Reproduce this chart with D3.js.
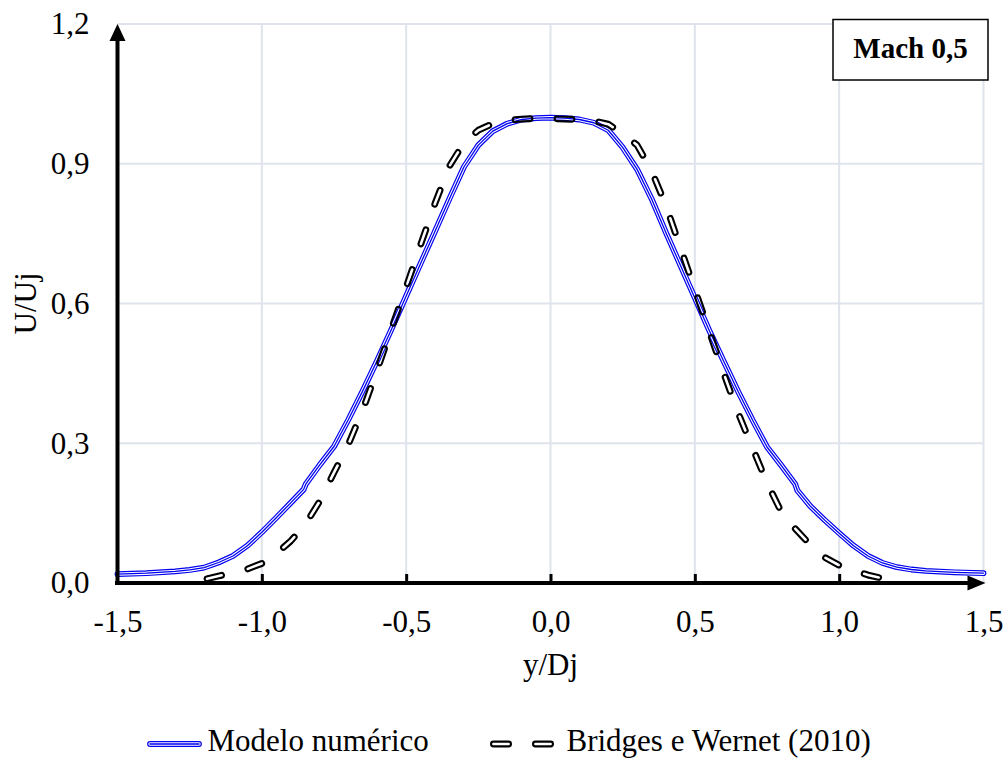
<!DOCTYPE html>
<html>
<head>
<meta charset="utf-8">
<script src="https://cdn.jsdelivr.net/npm/d3@7"></script>
<style>
  body { margin: 0; background: #fff; }
  svg { display: block; }
  text { font-family: "Liberation Serif", "Times New Roman", serif; fill: #000; }
</style>
</head>
<body>
<svg id="chart" width="1008" height="760"></svg>
<script>
// Axis ticks
const xTickValues = [-1.5, -1.0, -0.5, 0.0, 0.5, 1.0, 1.5];
const yTickValues = [0.0, 0.3, 0.6, 0.9, 1.2];

// Numerical model velocity profile (U/Uj against y/Dj)
const modelX = [-1.5, -1.4, -1.3, -1.25, -1.2, -1.15, -1.1, -1.05, -1.0, -0.95, -0.9, -0.855, -0.848,
  -0.8, -0.75, -0.7, -0.65, -0.6, -0.55, -0.5, -0.45, -0.4, -0.35, -0.3, -0.25, -0.2, -0.15, -0.1, -0.05,
  0.0, 0.05, 0.1, 0.15, 0.2, 0.25, 0.3, 0.35, 0.4, 0.45, 0.5, 0.55, 0.6, 0.65, 0.7, 0.75, 0.8, 0.848,
  0.855, 0.9, 0.95, 1.0, 1.05, 1.1, 1.15, 1.2, 1.25, 1.3, 1.4, 1.5];
const modelY = [0.019, 0.021, 0.025, 0.028, 0.033, 0.044, 0.058, 0.080, 0.109, 0.140, 0.172, 0.201, 0.212,
  0.253, 0.293, 0.351, 0.413, 0.478, 0.546, 0.616, 0.686, 0.755, 0.825, 0.893, 0.940, 0.970, 0.986, 0.995, 0.998,
  0.999, 0.998, 0.995, 0.988, 0.972, 0.935, 0.888, 0.825, 0.752, 0.682, 0.612, 0.542, 0.476, 0.411, 0.350, 0.292, 0.252, 0.212,
  0.199, 0.165, 0.135, 0.107, 0.080, 0.058, 0.043, 0.034, 0.029, 0.026, 0.023, 0.021];

// Bridges & Wernet (2010) measured profile
const refX = [-1.19, -1.15, -1.1, -1.05, -1.0, -0.95, -0.9, -0.85, -0.8, -0.75, -0.7, -0.65, -0.6, -0.55,
  -0.5, -0.45, -0.4, -0.35, -0.3, -0.25, -0.2, -0.15, -0.1, -0.05, 0.0, 0.05, 0.1, 0.15, 0.2, 0.25, 0.3,
  0.35, 0.4, 0.45, 0.5, 0.55, 0.6, 0.65, 0.7, 0.75, 0.8, 0.85, 0.9, 0.95, 1.0, 1.05, 1.1, 1.15, 1.17];
const refY = [0.009, 0.015, 0.022, 0.030, 0.042, 0.063, 0.090, 0.125, 0.175, 0.237, 0.298, 0.372, 0.458, 0.548,
  0.635, 0.726, 0.815, 0.895, 0.945, 0.972, 0.986, 0.993, 0.996, 0.997, 0.997, 0.996, 0.995, 0.992, 0.985, 0.965, 0.940,
  0.885, 0.810, 0.720, 0.630, 0.540, 0.450, 0.365, 0.290, 0.215, 0.152, 0.115, 0.082, 0.055, 0.038, 0.027, 0.017, 0.010, 0.008];

const seriesNames = ["Modelo numérico", "Bridges e Wernet (2010)"];
const caseLabel = "Mach 0,5";
const xTitle = "y/Dj";
const yTitle = "U/Uj";

const svg = d3.select("#chart");
const FONT = 31;
const gridColor = "#dfe3eb";
const blue = "#0000f0";

const x = d3.scaleLinear().domain([-1.5, 1.5]).range([117.5, 983.5]);
const y = d3.scaleLinear().domain([0, 1.2]).range([583, 24]);
const fmt = v => v.toFixed(1).replace(".", ",");

svg.append("rect").attr("width", 1008).attr("height", 760).attr("fill", "#fff");
const defs = svg.append("defs");

// Grid
const grid = svg.append("g");
grid.selectAll("line.gx").data(xTickValues.filter(v => v > -1.5))
  .join("line").attr("class", "gx")
  .attr("x1", d => x(d)).attr("x2", d => x(d))
  .attr("y1", y(0)).attr("y2", y(1.2))
  .attr("stroke", gridColor).attr("stroke-width", 2);
grid.selectAll("line.gy").data(yTickValues.filter(v => v > 0))
  .join("line").attr("class", "gy")
  .attr("x1", x(-1.5)).attr("x2", x(1.5))
  .attr("y1", d => y(d)).attr("y2", d => y(d))
  .attr("stroke", gridColor).attr("stroke-width", 2);

// Model curve: blue triple-stripe line
const line = d3.line().x(d => x(d[0])).y(d => y(d[1]));
const modelPts = modelX.map((v, i) => [v, modelY[i]]);
const modelPath = line(modelPts);
function tripleLine(g, d) {
  g.append("path").attr("d", d).attr("fill", "none").attr("stroke", blue)
    .attr("stroke-width", 5.8).attr("stroke-linejoin", "round").attr("stroke-linecap", "round");
  g.append("path").attr("d", d).attr("fill", "none").attr("stroke", "#fff")
    .attr("stroke-width", 3.4).attr("stroke-linejoin", "round").attr("stroke-linecap", "round");
  g.append("path").attr("d", d).attr("fill", "none").attr("stroke", blue)
    .attr("stroke-width", 1.3).attr("stroke-linejoin", "round").attr("stroke-linecap", "round");
}
tripleLine(svg.append("g"), modelPath);

// Reference curve: hollow dashes (outline only)
function hollowDash(id, d, dash) {
  const m = defs.append("mask").attr("id", id)
    .attr("maskUnits", "userSpaceOnUse")
    .attr("x", 0).attr("y", 0).attr("width", 1008).attr("height", 760);
  m.append("path").attr("d", d).attr("fill", "none").attr("stroke", "#fff")
    .attr("stroke-width", 6.8).attr("stroke-linecap", "round").attr("stroke-linejoin", "round")
    .attr("stroke-dasharray", dash);
  m.append("path").attr("d", d).attr("fill", "none").attr("stroke", "#000")
    .attr("stroke-width", 2.6).attr("stroke-linecap", "round").attr("stroke-linejoin", "round")
    .attr("stroke-dasharray", dash);
  svg.append("rect").attr("width", 1008).attr("height", 760)
    .attr("fill", "#000").attr("mask", `url(#${id})`);
}
const refPts = refX.map((v, i) => [v, refY[i]]);
hollowDash("refDash", line(refPts), "15 27");

// X axis labels and inner ticks
const xAxis = d3.axisBottom(x).tickValues(xTickValues).tickFormat(fmt)
  .tickSizeInner(-9).tickSizeOuter(0).tickPadding(27);
const gx = svg.append("g").attr("transform", `translate(0,${y(0)})`).call(xAxis);
gx.select(".domain").remove();
gx.selectAll(".tick line").attr("stroke", "#000").attr("stroke-width", 3)
  .attr("display", d => (d === -1.5 || d === 1.5) ? "none" : null);
gx.selectAll(".tick text").attr("font-size", FONT).attr("font-family", "Liberation Serif, serif").attr("fill", "#000");

// Y axis labels
const yAxis = d3.axisLeft(y).tickValues(yTickValues).tickFormat(fmt)
  .tickSize(0).tickPadding(28);
const gy = svg.append("g").attr("transform", `translate(${x(-1.5)},0)`).call(yAxis);
gy.select(".domain").remove();
gy.selectAll(".tick text").attr("font-size", FONT).attr("font-family", "Liberation Serif, serif").attr("fill", "#000");

// Axis lines with arrow heads
const axes = svg.append("g");
axes.append("line").attr("x1", 115).attr("x2", 970).attr("y1", y(0)).attr("y2", y(0))
  .attr("stroke", "#000").attr("stroke-width", 4);
axes.append("path").attr("d", `M${x(1.5) + 2},${y(0)} L${x(1.5) - 16},${y(0) - 7.5} L${x(1.5) - 16},${y(0) + 7.5} Z`)
  .attr("fill", "#000");
axes.append("line").attr("x1", x(-1.5)).attr("x2", x(-1.5)).attr("y1", y(0) + 2).attr("y2", y(1.2) + 14)
  .attr("stroke", "#000").attr("stroke-width", 4);
axes.append("path").attr("d", `M${x(-1.5)},${y(1.2)} L${x(-1.5) - 8},${y(1.2) + 17} L${x(-1.5) + 8},${y(1.2) + 17} Z`)
  .attr("fill", "#000");

// Axis titles
svg.append("text").attr("x", x(0)).attr("y", 675).attr("text-anchor", "middle")
  .attr("font-size", FONT).text(xTitle);
svg.append("text").attr("transform", `translate(36,${(y(0) + y(1.2)) / 2}) rotate(-90)`)
  .attr("text-anchor", "middle").attr("font-size", FONT).text(yTitle);

// Case label box
svg.append("rect").attr("x", 833).attr("y", 19.5).attr("width", 155).attr("height", 60.5)
  .attr("fill", "#fff").attr("stroke", "#000").attr("stroke-width", 1.5);
svg.append("text").attr("x", 910.5).attr("y", 58).attr("text-anchor", "middle")
  .attr("font-size", 29).attr("font-weight", "bold").text(caseLabel);

// Legend
const legY = 744;
tripleLine(svg.append("g"), `M150,${legY} L199,${legY}`);
svg.append("text").attr("x", 207.5).attr("y", legY + 7).attr("font-size", FONT).text(seriesNames[0]);
hollowDash("legDash", `M493.4,${legY} L551,${legY}`, "15.2 26.8");
svg.append("text").attr("x", 566.5).attr("y", legY + 7).attr("font-size", FONT).text(seriesNames[1]);
</script>
</body>
</html>
